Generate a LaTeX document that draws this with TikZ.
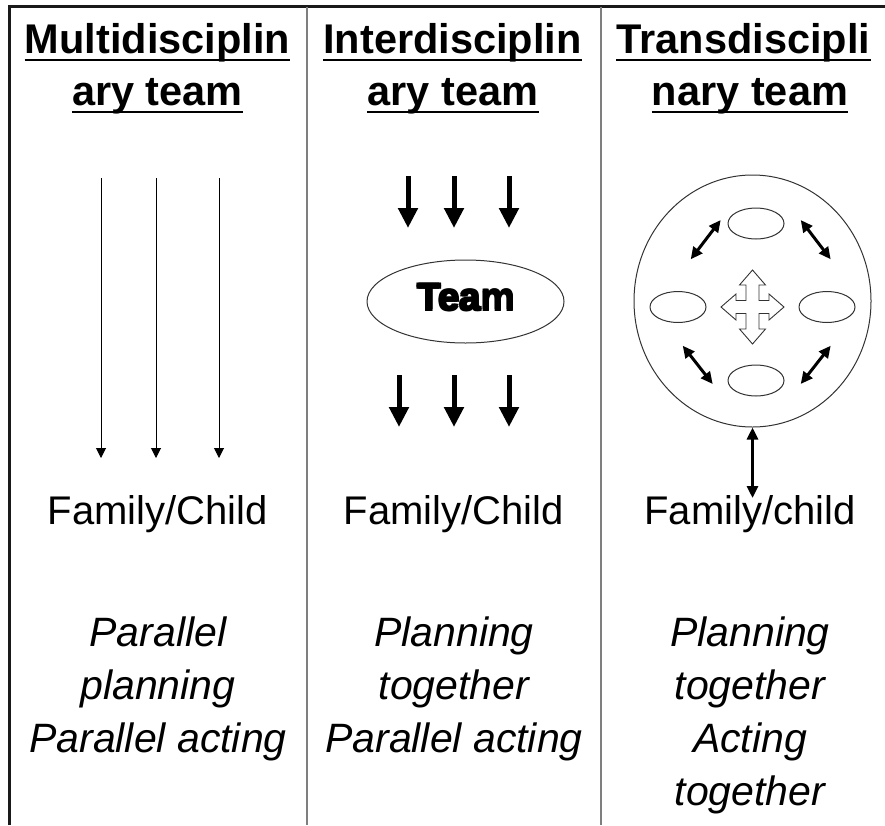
\documentclass[tikz,border=0pt]{standalone}
\usepackage{fontspec}
\setmainfont{Liberation Sans}
\usetikzlibrary{arrows.meta,shapes.geometric}
\newcommand\heavytext[1]{\leavevmode\rlap{#1}\rlap{\kern1.6pt#1}\rlap{\raise1.2pt\hbox{#1}}\rlap{\kern1.6pt\raise1.2pt\hbox{#1}}\rlap{\kern0.8pt\raise0.6pt\hbox{#1}}\phantom{#1}\kern1.6pt}
\definecolor{divgray}{HTML}{7F7F7F}
\definecolor{framedark}{HTML}{1A1A1A}
\definecolor{shapegray}{HTML}{333333}
\tikzset{
  hdr/.style={anchor=base,inner sep=0pt,font=\fontsize{41.5}{50}\selectfont\bfseries},
  fam/.style={anchor=base,inner sep=0pt,font=\fontsize{40}{48}\selectfont},
  itl/.style={anchor=base,inner sep=0pt,font=\fontsize{41}{53}\selectfont\itshape},
  ulin/.style={line width=2.8pt,black},
  thinarrow/.style={line width=1pt,-{Triangle[length=10pt,width=10pt]}},
  fatarrow/.style={line width=5pt,-{Triangle[length=20pt,width=19pt]}},
  dblarrow/.style={line width=3pt,{Triangle[length=12pt,width=11pt]}-{Triangle[length=12pt,width=11pt]}},
  oval/.style={draw=shapegray,line width=1pt,ellipse,inner sep=0pt},
}
\begin{document}
\begin{tikzpicture}[x=1pt,y=-1pt]
\useasboundingbox (0,0) rectangle (885,825);
% frame
\draw[framedark,line width=2.6pt] (8.2,6.5) -- (885,6.5);
\draw[framedark,line width=2.6pt] (9.5,5.2) -- (9.5,825);
\draw[divgray,line width=1.6pt] (307,6.5) -- (307,825);
\draw[divgray,line width=1.6pt] (601,6.5) -- (601,825);

% headers
\node[hdr] (h1a) at (157.5,53) {Multidisciplin};
\node[hdr] (h1b) at (157.5,105) {ary team};
\node[hdr] (h2a) at (452.5,53) {Interdisciplin};
\node[hdr] (h2b) at (453,105) {ary team};
\node[hdr] (h3a) at (743.5,53) {Transdiscipli};
\node[hdr] (h3b) at (750,105) {nary team};
\foreach \n in {h1a,h1b,h2a,h2b,h3a,h3b}{
  \draw[ulin] ([yshift=-7pt]\n.base west) -- ([yshift=-7pt]\n.base east);
}

% column 1 arrows
\foreach \i/\xx in {1/101,2/156,3/219}{
  \coordinate (m\i s) at (\xx,178);
  \coordinate (m\i e) at (\xx,458);
  \draw[thinarrow] (m\i s) -- (m\i e);
}

% column 2
\node[oval,minimum width=197pt,minimum height=83pt] (team) at (465.5,301.5) {};
\node[inner sep=0pt,font=\fontsize{38.5}{44}\selectfont\bfseries] (teamlabel) at (466.5,297.5) {\heavytext{Team}};
\foreach \i/\xx in {1/408,2/454,3/509}{
  \coordinate (t\i s) at (\xx,176);
  \coordinate (t\i e) at (\xx,228);
  \draw[fatarrow] (t\i s) -- (t\i e);
}
\foreach \i/\xx in {1/399,2/454,3/509}{
  \coordinate (b\i s) at (\xx,375);
  \coordinate (b\i e) at (\xx,427);
  \draw[fatarrow] (b\i s) -- (b\i e);
}

% column 3
\node[oval,minimum width=237pt,minimum height=252pt] (big) at (752.5,301) {};
\node[oval,minimum width=56pt,minimum height=31pt] (etop) at (756,223.5) {};
\node[oval,minimum width=56pt,minimum height=31pt] (ebot) at (756,380.5) {};
\node[oval,minimum width=56pt,minimum height=31pt] (eleft) at (678,307) {};
\node[oval,minimum width=56pt,minimum height=31pt] (eright) at (827,307) {};
% quad arrow
\draw[draw=shapegray,fill=white,line width=0.9pt,line join=miter,shift={(752.5,307)}]
  (0,-37) -- (13,-22) -- (6.5,-22) -- (6.5,-6.5) -- (16.5,-6.5) -- (16.5,-13) -- (31.5,0)
  -- (16.5,13) -- (16.5,6.5) -- (6.5,6.5) -- (6.5,22) -- (13,22) -- (0,37)
  -- (-13,22) -- (-6.5,22) -- (-6.5,6.5) -- (-16.5,6.5) -- (-16.5,13) -- (-31.5,0)
  -- (-16.5,-13) -- (-16.5,-6.5) -- (-6.5,-6.5) -- (-6.5,-22) -- (-13,-22) -- cycle;
% diagonal double arrows
\coordinate (d1a) at (690.7,259.3); \coordinate (d1b) at (720.7,220);
\coordinate (d2a) at (800.7,220);   \coordinate (d2b) at (830.7,259.3);
\coordinate (d3a) at (682.7,345.7); \coordinate (d3b) at (712.7,384);
\coordinate (d4a) at (800.7,384);   \coordinate (d4b) at (830.7,345.7);
\draw[dblarrow] (d1a) -- (d1b);
\draw[dblarrow] (d2a) -- (d2b);
\draw[dblarrow] (d3a) -- (d3b);
\draw[dblarrow] (d4a) -- (d4b);

% family labels
\node[fam] (fam1) at (158,524) {Family/Child};
\node[fam] (fam2) at (454,524) {Family/Child};
\node[fam] (fam3) at (750,524) {Family/child};
\coordinate (vend) at (752.5,498);
\draw[dblarrow] (big.south) -- (vend);

% bottom texts
\node[itl] (p1a) at (158,646) {Parallel};
\node[itl] (p1b) at (158,699) {planning};
\node[itl] (p1c) at (158,752) {Parallel acting};
\node[itl] (p2a) at (454,646) {Planning};
\node[itl] (p2b) at (454,699) {together};
\node[itl] (p2c) at (454,752) {Parallel acting};
\node[itl] (p3a) at (750,646) {Planning};
\node[itl] (p3b) at (750,699) {together};
\node[itl] (p3c) at (750,752) {Acting};
\node[itl] (p3d) at (750,805) {together};
\end{tikzpicture}
\end{document}
